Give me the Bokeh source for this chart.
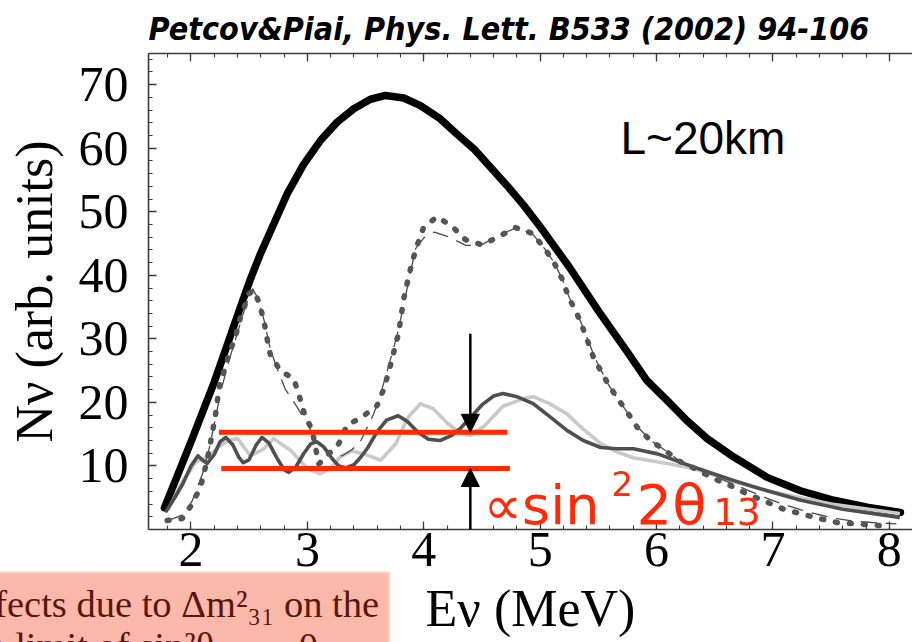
import math
from bokeh.plotting import figure
from bokeh.models import Range1d, LinearAxis, FixedTicker, Label, Arrow, NormalHead, Title
from bokeh.embed import file_html
from bokeh.resources import INLINE

# ---- spectra (E in MeV, N in arbitrary units) ----
E_noosc = [1.772, 2.00, 2.20, 2.339, 2.425, 2.511, 2.597, 2.712, 2.826, 2.969, 3.112,
           3.256, 3.399, 3.542, 3.671, 3.828, 3.971, 4.143, 4.286, 4.430, 4.573, 4.716,
           4.859, 5.002, 5.25, 5.50, 5.75, 5.919, 6.091, 6.263, 6.435, 6.664, 6.950,
           7.236, 7.523, 7.809, 8.095]
N_noosc = [3.4, 13.8, 23.2, 30.5, 35.0, 39.4, 43.4, 48.1, 52.8, 57.5, 61.2, 64.1, 66.2,
           67.7, 68.3, 67.9, 66.7, 64.6, 62.2, 59.9, 57.0, 54.1, 51.0, 47.6, 41.3, 34.4,
           27.9, 23.4, 20.3, 17.1, 14.3, 11.4, 8.2, 6.1, 4.6, 3.5, 2.7]

E_dark = [1.78, 1.86, 1.93, 2.00, 2.06, 2.10, 2.14, 2.20, 2.25, 2.30, 2.36, 2.41, 2.45,
          2.50, 2.56, 2.61, 2.67, 2.74, 2.80, 2.84, 2.90, 2.97, 3.03, 3.08, 3.14, 3.21,
          3.27, 3.33, 3.40, 3.46, 3.52, 3.60, 3.68, 3.78, 3.86, 3.95, 4.04, 4.14, 4.24,
          4.32, 4.40, 4.50, 4.60, 4.68, 4.80, 4.94, 5.08, 5.23, 5.37, 5.52, 5.66, 5.80,
          6.01, 6.23, 6.45, 6.66, 6.95, 7.24, 7.60, 8.09]
N_dark = [2.7, 5.0, 7.2, 10.0, 11.6, 10.9, 10.4, 11.8, 13.8, 14.5, 13.3, 11.4, 10.5,
          11.0, 13.3, 14.5, 13.6, 11.2, 9.4, 9.0, 9.8, 12.0, 13.5, 13.8, 13.0, 11.2,
          10.0, 9.7, 10.2, 11.4, 12.9, 15.4, 17.2, 17.9, 17.0, 15.3, 14.2, 14.0, 14.8,
          16.0, 17.6, 19.6, 21.0, 21.4, 20.9, 19.8, 17.8, 15.6, 14.0, 12.9, 12.7, 12.7,
          11.9, 10.4, 9.0, 7.7, 6.1, 4.6, 3.2, 1.9]

E_light = [1.80, 1.93, 2.04, 2.14, 2.24, 2.32, 2.40, 2.51, 2.62, 2.71, 2.86, 3.00, 3.11,
           3.20, 3.28, 3.38, 3.50, 3.63, 3.76, 3.86, 3.97, 4.08, 4.20, 4.30, 4.40, 4.52,
           4.68, 4.86, 4.94, 5.08, 5.23, 5.37, 5.52, 5.66, 5.80, 6.09, 6.32, 6.62, 6.95,
           7.50, 8.09]
N_light = [3.0, 7.6, 10.6, 11.4, 13.0, 14.0, 14.3, 11.6, 12.6, 14.3, 12.4, 9.6, 8.8,
           9.6, 11.4, 12.4, 11.8, 10.9, 13.5, 17.5, 19.8, 19.0, 16.8, 15.3, 14.8, 16.3,
           19.4, 20.6, 20.9, 19.8, 18.2, 15.8, 13.5, 12.2, 11.3, 10.4, 9.6, 7.8, 6.1,
           4.0, 2.5]

E_dot = [1.795, 1.924, 2.010, 2.082, 2.124, 2.153, 2.182, 2.210, 2.230, 2.253, 2.296,
         2.325, 2.382, 2.425, 2.468, 2.497, 2.540, 2.583, 2.626, 2.654, 2.683, 2.769,
         2.883, 2.926, 2.969, 3.041, 3.098, 3.270, 3.341, 3.470, 3.599, 3.656, 3.699,
         3.742, 3.785, 3.828, 3.863, 3.900, 3.943, 4.000, 4.115, 4.244, 4.358, 4.501,
         4.645, 4.788, 4.931, 5.031, 5.117, 5.189, 5.246, 5.318, 5.375, 5.46, 5.575,
         5.647, 5.747, 5.833, 5.948, 6.077, 6.191, 6.349, 6.492, 6.635, 6.778, 6.950,
         7.093, 7.236, 7.379, 7.551, 7.695, 7.852, 8.010]
N_dot = [1.4, 1.7, 4.0, 6.7, 9.8, 12.2, 15.1, 17.9, 20.8, 23.4, 25.5, 27.6, 30.3, 33.4,
         35.5, 37.1, 37.6, 35.8, 32.9, 30.0, 27.4, 25.0, 23.7, 21.3, 18.5, 15.6, 10.3,
         13.5, 16.4, 17.7, 19.5, 22.1, 24.8, 27.9, 31.0, 36.3, 39.2, 42.1, 44.7, 47.6,
         49.2, 47.7, 45.6, 44.8, 46.1, 47.5, 46.6, 44.4, 42.1, 39.4, 36.5, 33.9, 31.3,
         27.0, 23.2, 21.1, 18.5, 16.1, 14.0, 12.4, 10.8, 9.4, 8.0, 6.9, 5.6, 4.3, 3.2,
         2.5, 1.8, 1.1, 0.9, 0.7, 0.5]

E_dash = [1.80, 1.94, 2.01, 2.10, 2.16, 2.21, 2.26, 2.33, 2.40, 2.47, 2.53, 2.58, 2.63,
          2.68, 2.74, 2.81, 2.90, 2.98, 3.05, 3.13, 3.22, 3.30, 3.38, 3.46, 3.57, 3.64,
          3.71, 3.77, 3.83, 3.88, 3.93, 4.00, 4.09, 4.22, 4.36, 4.49, 4.66, 4.79, 4.93,
          5.03, 5.12, 5.19, 5.25, 5.32, 5.38, 5.47, 5.58, 5.65, 5.75, 5.84, 5.95, 6.08,
          6.19, 6.35, 6.49, 6.64, 6.78, 6.95, 7.10, 7.24, 7.38, 7.55, 7.70, 7.85, 8.06]
N_dash = [1.4, 2.4, 4.5, 8.8, 13.0, 17.5, 22.0, 26.8, 31.0, 35.2, 37.9, 36.2, 32.8,
          28.5, 25.3, 22.1, 19.6, 17.2, 15.0, 13.0, 11.8, 11.6, 12.5, 14.0, 18.2, 22.0,
          26.5, 30.5, 35.5, 40.0, 44.2, 45.9, 46.8, 46.0, 44.7, 44.7, 46.5, 47.4, 46.6,
          44.4, 42.0, 39.4, 36.5, 33.9, 31.3, 27.0, 23.0, 21.0, 18.4, 16.1, 14.0, 12.4,
          10.9, 9.6, 8.4, 7.3, 6.2, 4.9, 3.9, 3.1, 2.4, 1.7, 1.3, 1.1, 0.9]

# spread band marking the sin^2(2 theta13) sensitivity
band_levels = [15.3, 9.6]
band_start = [2.24, 2.26]
band_end = [4.72, 4.74]
arrow_E = 4.40
arrow_from = [30.8, -1.8]

x_major = [2, 3, 4, 5, 6, 7, 8]
y_major = [10, 20, 30, 40, 50, 60, 70]

# ---- figure ----
FL, FB = 148, 529          # frame left / bottom on the canvas
p = figure(width=912, height=642, output_backend="svg", toolbar_location=None,
           x_range=Range1d(1.635, 8.199), y_range=Range1d(0, 74.9),
           x_axis_location=None, y_axis_location=None, title=None,
           min_border_left=FL, min_border_right=0, min_border_top=53,
           min_border_bottom=642 - FB)
p.outline_line_color = None
p.xgrid.visible = False
p.ygrid.visible = False
p.background_fill_color = "white"
p.border_fill_color = "white"

x_ticker = FixedTicker(ticks=x_major,
                       minor_ticks=[1.6 + 0.2 * i for i in range(35)])
y_ticker = FixedTicker(ticks=y_major, minor_ticks=[2 * i for i in range(38)])

serif = "Liberation Serif"


def style_axis(ax):
    ax.axis_line_color = "#3a3a3a"
    ax.axis_line_width = 1.6
    ax.major_tick_line_color = "#3a3a3a"
    ax.minor_tick_line_color = "#3a3a3a"
    ax.major_tick_line_width = 1.3
    ax.minor_tick_line_width = 1.1
    ax.major_tick_in = 8
    ax.major_tick_out = 0
    ax.minor_tick_in = 4
    ax.minor_tick_out = 0
    ax.major_label_text_font = serif
    ax.major_label_text_font_size = "50px"
    ax.major_label_text_color = "black"
    ax.axis_label_text_font = serif
    ax.axis_label_text_font_size = "52px"
    ax.axis_label_text_font_style = "normal"
    ax.axis_label_text_color = "black"


ax_left = LinearAxis(ticker=y_ticker, axis_label="N\u03bd (arb. units)")
style_axis(ax_left)
ax_left.major_label_standoff = 20
ax_left.axis_label_standoff = 13
p.add_layout(ax_left, "left")

ax_below = LinearAxis(ticker=x_ticker, axis_label="E\u03bd (MeV)")
style_axis(ax_below)
ax_below.major_label_standoff = 3
ax_below.axis_label_standoff = 11
p.add_layout(ax_below, "below")

ax_above = LinearAxis(ticker=x_ticker)
style_axis(ax_above)
ax_above.major_label_text_font_size = "1px"
ax_above.major_label_text_color = None
ax_above.major_label_standoff = 0
p.add_layout(ax_above, "above")

p.add_layout(Title(text="Petcov&Piai, Phys. Lett. B533 (2002) 94-106", align="left",
                   offset=0, standoff=11,
                   text_font="DejaVu Sans Condensed, Liberation Sans",
                   text_font_style="bold italic", text_font_size="32px",
                   text_color="black"), "above")

# ---- curves ----
p.line(E_noosc, N_noosc, line_color="black", line_width=7.5, line_cap="round",
       line_join="round")
p.line(E_light, N_light, line_color="#c9c9c9", line_width=3.6, line_join="round")
p.line(E_dark, N_dark, line_color="#4f4f4f", line_width=3.6, line_join="round")
p.line(E_dash, N_dash, line_color="#4a4a4a", line_width=1.3, line_dash="16 9")
p.line(E_dot, N_dot, line_color="#555555", line_width=5.5, line_dash="2 12",
       line_cap="round")

# ---- band and arrows ----
p.segment(x0=band_start, x1=band_end, y0=band_levels, y1=band_levels,
          line_color="#ff2a00", line_width=5)
for y_from, y_to in zip(arrow_from, band_levels):
    p.add_layout(Arrow(x_start=arrow_E, y_start=y_from, x_end=arrow_E, y_end=y_to,
                       line_width=2.5, line_color="black",
                       end=NormalHead(size=18, fill_color="black", line_color="black",
                                      line_width=1)))


# ---- texts inside the frame: (px, py) is the top-left of the text box ----
def label(text, px, py, **kw):
    return Label(x=px - FL, y=FB - py, x_units="screen", y_units="screen",
                 text=text, text_baseline="top", **kw)


p.add_layout(label("L~20km", 620, 111, text_font="Liberation Sans",
                   text_font_size="46px", text_color="black"))

red = "#ff2a0a"
for txt, px, py, size in [("\u221dsin", 483, 473, "54px"), ("2", 611, 470, "34px"),
                          ("2\u03b8", 636, 471, "56px"), ("13", 713, 497, "37px")]:
    p.add_layout(label(txt, px, py, text_font="DejaVu Sans", text_font_size=size,
                       text_color=red))

# caption note at the lower left, hung below the x axis
p.add_layout(Title(text="Effects due to \u0394m\u00b2\u2083\u2081 on the\n"
                        "the limit of sin\u00b2\u03b8\u2081\u2083 \u2192 0",
                   align="left", vertical_align="top", offset=-200, standoff=-134,
                   text_font=serif, text_font_size="38.5px", text_font_style="normal",
                   text_color="#5a160c", background_fill_color="#fab8ab",
                   border_line_color="#fcd0c6", border_line_width=2, padding=10),
             "below")

open("out.html", "w").write(file_html(p, INLINE))
